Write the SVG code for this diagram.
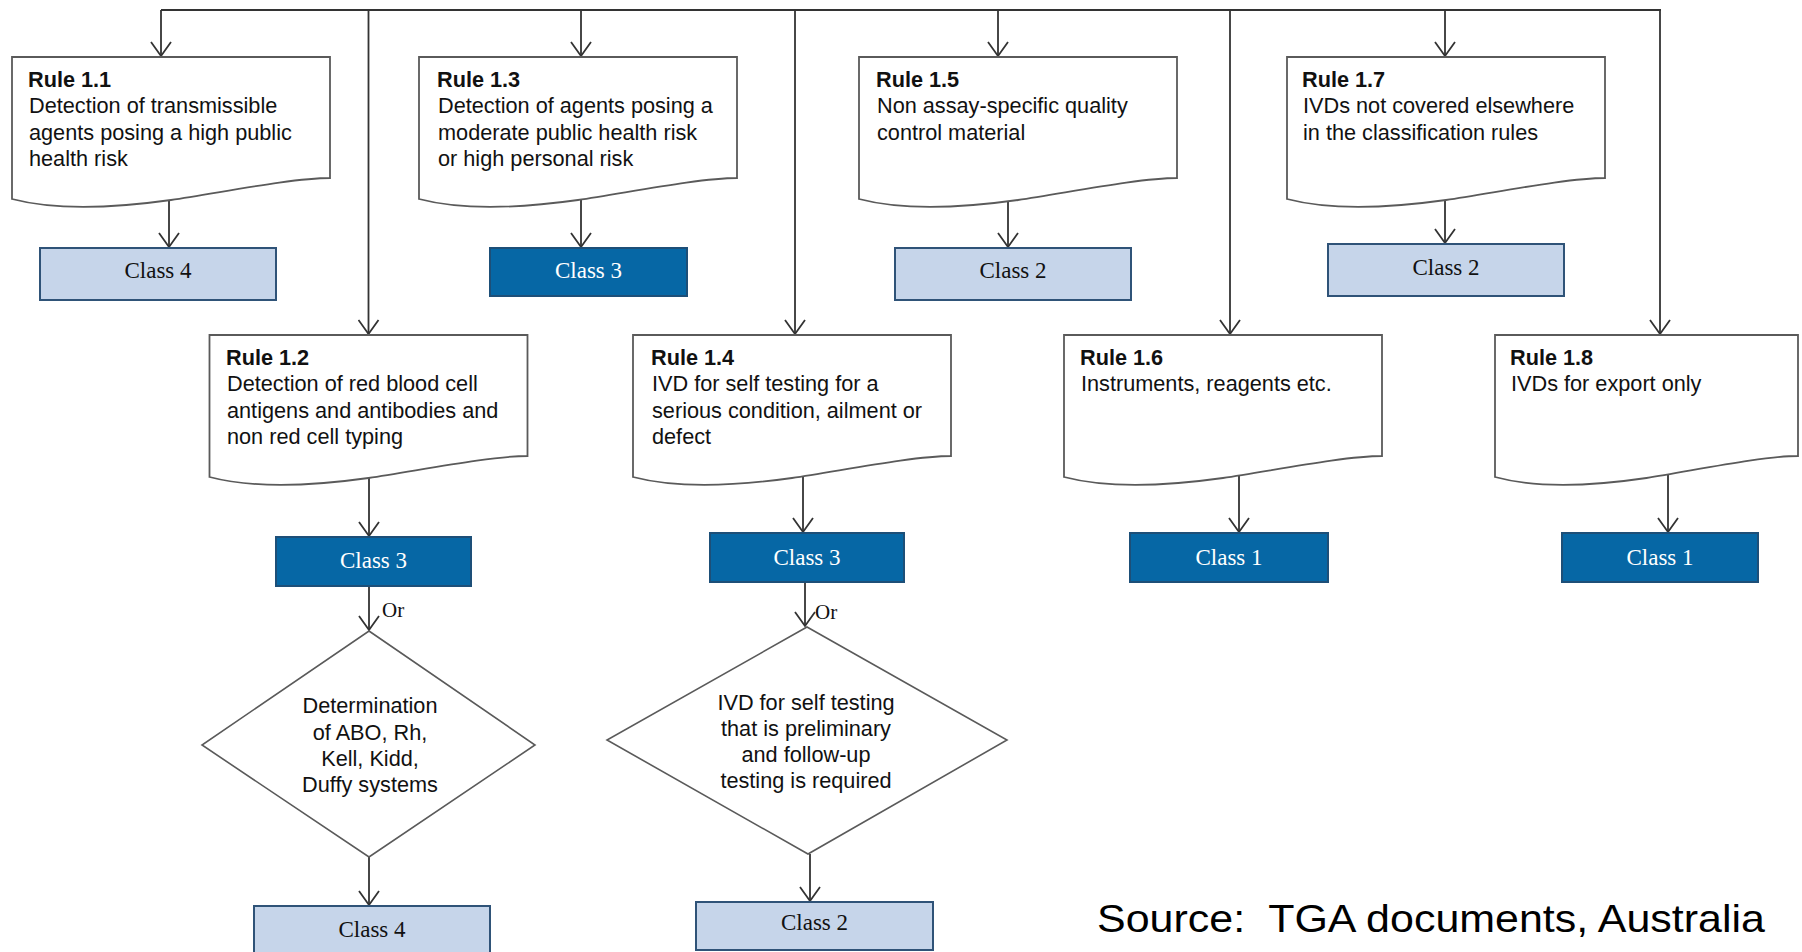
<svg xmlns="http://www.w3.org/2000/svg" width="1802" height="952" viewBox="0 0 1802 952">
<defs>
<marker id="arr" viewBox="-15 -11 17 22" refX="0" refY="0" markerWidth="17" markerHeight="22" markerUnits="userSpaceOnUse" orient="auto">
<path d="M-14,-10 L0,0 L-14,10" fill="none" stroke="#333" stroke-width="1.8"/>
</marker>
<style>
.doc{fill:#fff;stroke:#5a5a5a;stroke-width:1.8}
.dia{fill:#fff;stroke:#5a5a5a;stroke-width:1.6}
.con{fill:none;stroke:#333;stroke-width:1.8}
.arr{marker-end:url(#arr)}
.light{fill:#c6d5ea;stroke:#2f5378;stroke-width:2}
.dark{fill:#0667a5;stroke:#1d4f78;stroke-width:2}
.t{font-family:"Liberation Sans",Arial,sans-serif;font-size:21.7px;fill:#111}
.tb{font-family:"Liberation Sans",Arial,sans-serif;font-size:21.7px;font-weight:bold;fill:#111}
.tc{font-family:"Liberation Sans",Arial,sans-serif;font-size:21.7px;fill:#111;text-anchor:middle}
.cl{font-family:"Liberation Serif","Times New Roman",serif;font-size:23px;text-anchor:middle;fill:#111}
.cd{font-family:"Liberation Serif","Times New Roman",serif;font-size:23px;text-anchor:middle;fill:#fff}
.or{font-family:"Liberation Serif","Times New Roman",serif;font-size:21px;fill:#111}
.src{font-family:"Liberation Sans",Arial,sans-serif;font-size:39px;fill:#000}
</style>
</defs>
<rect width="1802" height="952" fill="#fff"/>

<g id="connectors">
<path class="con" d="M161,10 H1661"/>
<path class="con arr" d="M161,10 V56"/>
<path class="con arr" d="M368.5,10 V334"/>
<path class="con arr" d="M581,10 V56"/>
<path class="con arr" d="M795,10 V334"/>
<path class="con arr" d="M998,10 V56"/>
<path class="con arr" d="M1230,10 V334"/>
<path class="con arr" d="M1445,10 V56"/>
<path class="con arr" d="M1660,10 V334"/>
<path class="con arr" d="M169,201 V247"/>
<path class="con arr" d="M581,200 V247"/>
<path class="con arr" d="M1008,202 V247"/>
<path class="con arr" d="M1445,200 V243"/>
<path class="con arr" d="M369,478 V536"/>
<path class="con arr" d="M803,476 V532"/>
<path class="con arr" d="M1239,474 V532"/>
<path class="con arr" d="M1668,473 V532"/>
<path class="con arr" d="M369,586 V630"/>
<path class="con arr" d="M805,582 V626"/>
<path class="con arr" d="M369,857 V905"/>
<path class="con arr" d="M810,854 V901"/>
<text class="or" x="382" y="617">Or</text>
<text class="or" x="815" y="619">Or</text>
</g>

<g id="rule11">
<path class="doc" d="M12,57 h318 v121 c -38,0 -111,15 -159,22 c -64,9 -121,9 -159,-1 z"/>
<text class="tb" x="28" y="87">Rule 1.1</text>
<text class="t" x="29" y="113">Detection of transmissible</text>
<text class="t" x="29" y="139.5">agents posing a high public</text>
<text class="t" x="29" y="166">health risk</text>
</g>
<g id="rule13">
<path class="doc" d="M419,57 h318 v121 c -38,0 -111,15 -159,22 c -64,9 -121,9 -159,-1 z"/>
<text class="tb" x="437" y="87">Rule 1.3</text>
<text class="t" x="438" y="113">Detection of agents posing a</text>
<text class="t" x="438" y="139.5">moderate public health risk</text>
<text class="t" x="438" y="166">or high personal risk</text>
</g>
<g id="rule15">
<path class="doc" d="M859,57 h318 v121 c -38,0 -111,15 -159,22 c -64,9 -121,9 -159,-1 z"/>
<text class="tb" x="876" y="87">Rule 1.5</text>
<text class="t" x="877" y="113">Non assay-specific quality</text>
<text class="t" x="877" y="139.5">control material</text>
</g>
<g id="rule17">
<path class="doc" d="M1287,57 h318 v121 c -38,0 -111,15 -159,22 c -64,9 -121,9 -159,-1 z"/>
<text class="tb" x="1302" y="87">Rule 1.7</text>
<text class="t" x="1303" y="113">IVDs not covered elsewhere</text>
<text class="t" x="1303" y="139.5">in the classification rules</text>
</g>

<g id="rule12">
<path class="doc" d="M209.5,335 h318 v121 c -38,0 -111,15 -159,22 c -64,9 -121,9 -159,-1 z"/>
<text class="tb" x="226" y="365">Rule 1.2</text>
<text class="t" x="227" y="391">Detection of red blood cell</text>
<text class="t" x="227" y="417.5">antigens and antibodies and</text>
<text class="t" x="227" y="444">non red cell typing</text>
</g>
<g id="rule14">
<path class="doc" d="M633,335 h318 v121 c -38,0 -111,15 -159,22 c -64,9 -121,9 -159,-1 z"/>
<text class="tb" x="651" y="365">Rule 1.4</text>
<text class="t" x="652" y="391">IVD for self testing for a</text>
<text class="t" x="652" y="417.5">serious condition, ailment or</text>
<text class="t" x="652" y="444">defect</text>
</g>
<g id="rule16">
<path class="doc" d="M1064,335 h318 v121 c -38,0 -111,15 -159,22 c -64,9 -121,9 -159,-1 z"/>
<text class="tb" x="1080" y="365">Rule 1.6</text>
<text class="t" x="1081" y="391">Instruments, reagents etc.</text>
</g>
<g id="rule18">
<path class="doc" d="M1495,335 h303 v121 c -36,0 -106,15 -151.5,22 c -61,9 -115,9 -151.5,-1 z"/>
<text class="tb" x="1510" y="365">Rule 1.8</text>
<text class="t" x="1511" y="391">IVDs for export only</text>
</g>

<g id="class4a"><rect class="light" x="40" y="248" width="236" height="52"/><text class="cl" x="158" y="278">Class 4</text></g>
<g id="class3a"><rect class="dark" x="490" y="248" width="197" height="48"/><text class="cd" x="588.5" y="278">Class 3</text></g>
<g id="class2a"><rect class="light" x="895" y="248" width="236" height="52"/><text class="cl" x="1013" y="278">Class 2</text></g>
<g id="class2b"><rect class="light" x="1328" y="244" width="236" height="52"/><text class="cl" x="1446" y="275">Class 2</text></g>
<g id="class3b"><rect class="dark" x="276" y="537" width="195" height="49"/><text class="cd" x="373.5" y="568">Class 3</text></g>
<g id="class3c"><rect class="dark" x="710" y="533" width="194" height="49"/><text class="cd" x="807" y="565">Class 3</text></g>
<g id="class1a"><rect class="dark" x="1130" y="533" width="198" height="49"/><text class="cd" x="1229" y="565">Class 1</text></g>
<g id="class1b"><rect class="dark" x="1562" y="533" width="196" height="49"/><text class="cd" x="1660" y="565">Class 1</text></g>
<g id="class4b"><rect class="light" x="254" y="906" width="236" height="52"/><text class="cl" x="372" y="937">Class 4</text></g>
<g id="class2c"><rect class="light" x="696" y="902" width="237" height="48"/><text class="cl" x="814.5" y="930">Class 2</text></g>

<g id="decision1">
<path class="dia" d="M369,631 L535,745 L369,857 L202,745 Z"/>
<text class="tc" x="370" y="713">Determination</text>
<text class="tc" x="370" y="739.5">of ABO, Rh,</text>
<text class="tc" x="370" y="766">Kell, Kidd,</text>
<text class="tc" x="370" y="792">Duffy systems</text>
</g>
<g id="decision2">
<path class="dia" d="M807,627 L1007,740 L808,854 L607,740 Z"/>
<text class="tc" x="806" y="710">IVD for self testing</text>
<text class="tc" x="806" y="736">that is preliminary</text>
<text class="tc" x="806" y="762">and follow-up</text>
<text class="tc" x="806" y="788">testing is required</text>
</g>

<g id="source">
<text class="src" x="1097" y="932" textLength="668" lengthAdjust="spacingAndGlyphs">Source:&#160; TGA documents, Australia</text>
</g>
</svg>
